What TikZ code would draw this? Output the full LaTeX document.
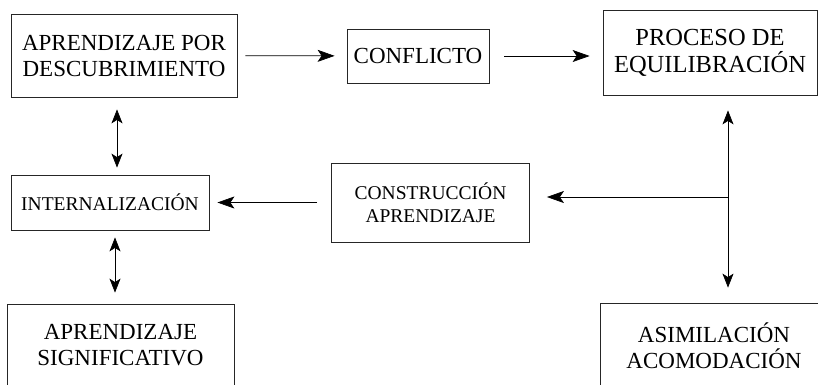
\documentclass[tikz,border=0pt]{standalone}
\usepackage{fontspec}
\setmainfont{Liberation Serif}
\usetikzlibrary{arrows.meta}
\newcommand*{\txtgrande}{\fontsize{23}{26}\selectfont}
\newcommand*{\txtproc  }{\fontsize{24.5}{27}\selectfont}
\newcommand*{\txtchico }{\fontsize{19.5}{23}\selectfont}

\begin{document}
\begin{tikzpicture}[x=1pt, y=-1pt,
    caja/.style   = {draw=black!85, line width=0.8pt, align=center, inner sep=0pt},
    flecha/.style = {line width=0.7pt, arrows={-Stealth[length=17pt,width=12pt,inset=4pt]}},
    doble/.style  = {line width=0.7pt, arrows={Stealth[length=14pt,width=11pt,inset=3.5pt]-Stealth[length=14pt,width=11pt,inset=3.5pt]}}]
    	\useasboundingbox (0,0) rectangle (818,384);
        \clip (0,0) rectangle (818,384);
        \node [caja, minimum width=226pt, minimum height=83pt, font=\txtgrande] (apdesc) at (124,55.5) {APRENDIZAJE POR\\DESCUBRIMIENTO};
        \node [caja, minimum width=142pt, minimum height=54pt, font=\txtgrande] (conf)   at (418,56)   {CONFLICTO};
        \node [caja, minimum width=214pt, minimum height=85pt, font=\txtproc  ] (proc)   at (710,52.5) {PROCESO DE\\EQUILIBRACIÓN};
        \node [caja, minimum width=198pt, minimum height=55pt, font=\txtchico ] (intern) at (110,202.5) {INTERNALIZACIÓN};
        \node [caja, minimum width=198pt, minimum height=79pt, font=\txtchico ] (constr) at (430.5,202.5) {CONSTRUCCIÓN\\APRENDIZAJE};
        \node [caja, minimum width=227pt, minimum height=83pt, font=\txtgrande] (signif) at (120.5,345.5) {APRENDIZAJE\\SIGNIFICATIVO};
        \node [caja, minimum width=228pt, minimum height=86pt, font=\txtgrande] (asim)   at (714,346)  {ASIMILACIÓN\\ACOMODACIÓN};
        \coordinate (cruce) at (728,197);
        % fila de arriba
        \draw [flecha, shorten <=8pt, shorten >=12pt] (apdesc) -- (conf);
        \draw [flecha, shorten <=15pt, shorten >=13pt] (conf.east) -- (conf.east -| proc.west);
        % lado derecho
        \draw [doble, shorten <=15pt, shorten >=15pt] (proc.south -| cruce) -- (asim.north -| cruce);
        \draw [flecha, shorten >=17pt] (cruce) -- (cruce -| constr.east);
        \draw [flecha, shorten <=14pt, shorten >=8pt] (constr.west) -- (intern.east);
        % lado izquierdo
        \draw [doble, shorten <=12pt, shorten >=7pt] ([xshift=7pt]intern.north |- apdesc.south) -- ([xshift=7pt]intern.north);
        \draw [doble, shorten <=7pt, shorten >=11pt] ([xshift=5pt]intern.south) -- ([xshift=5pt]intern.south |- signif.north);
    \end{tikzpicture}
\end{document}
